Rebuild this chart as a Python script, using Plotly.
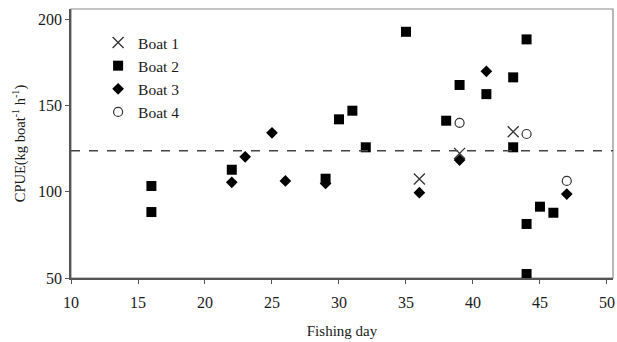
import plotly.graph_objects as go

# Data
boat1_day = [36, 39, 43]
boat1_cpue = [107.3, 122.2, 134.7]

boat2_day = [16, 16, 22, 29, 30, 31, 32, 35, 38, 39, 41, 43, 43, 44, 44, 44, 45, 46]
boat2_cpue = [103.3, 88.2, 112.7, 107.5, 141.9, 146.9, 125.7, 192.6, 141.1, 161.8,
              156.5, 166.2, 125.7, 188.2, 81.3, 52.3, 91.3, 87.8]

boat3_day = [22, 23, 25, 26, 29, 36, 39, 41, 47]
boat3_cpue = [105.4, 120.2, 134.1, 106.2, 104.8, 99.4, 118.3, 169.7, 98.6]

boat4_day = [39, 44, 47]
boat4_cpue = [139.9, 133.4, 106.2]

mean_cpue = 123.7
x_ticks = [10, 15, 20, 25, 30, 35, 40, 45, 50]
y_ticks = [50, 100, 150, 200]

FONT = "Liberation Serif"
INK = "#1a1a1a"

fig = go.Figure()
fig.add_trace(go.Scatter(x=boat1_day, y=boat1_cpue, mode="markers", name="Boat 1",
                         marker=dict(symbol="x-thin-open", size=11, color="#333333",
                                     line=dict(color="#333333", width=1.3))))
fig.add_trace(go.Scatter(x=boat2_day, y=boat2_cpue, mode="markers", name="Boat 2",
                         marker=dict(symbol="square", size=10, color="black")))
fig.add_trace(go.Scatter(x=boat3_day, y=boat3_cpue, mode="markers", name="Boat 3",
                         marker=dict(symbol="diamond", size=9, color="black")))
fig.add_trace(go.Scatter(x=boat4_day, y=boat4_cpue, mode="markers", name="Boat 4",
                         marker=dict(symbol="circle-open", size=9, color="#333333",
                                     line=dict(color="#333333", width=1.2))))

fig.add_hline(y=mean_cpue, line=dict(color="#444444", width=1.5, dash="dash"))

fig.add_shape(type="rect", xref="paper", yref="paper", x0=0, y0=0, x1=1, y1=1,
              line=dict(color="#8a8a8a", width=1.2), layer="below")

fig.update_layout(
    width=617, height=342,
    margin=dict(l=71, r=2, t=9, b=64),
    paper_bgcolor="white", plot_bgcolor="white",
    font=dict(family=FONT, size=15, color=INK),
    showlegend=True,
    legend=dict(x=0.05, y=0.937, xanchor="left", yanchor="top",
                bgcolor="rgba(0,0,0,0)", font=dict(family=FONT, size=15.5, color=INK),
                itemwidth=30, traceorder="normal"),
    xaxis=dict(range=[10, 50.45], tickvals=x_ticks, ticks="outside", ticklen=4,
               tickcolor="#555555", showgrid=False, zeroline=False,
               showline=True, linecolor="#555555", linewidth=1.5,
               ticklabelstandoff=5,
               tickfont=dict(family=FONT, size=16, color=INK),
               title=dict(text="Fishing day", font=dict(family=FONT, size=15, color=INK),
                          standoff=16)),
    yaxis=dict(range=[50, 205.8], tickvals=y_ticks, ticks="outside", ticklen=4,
               tickcolor="#555555", showgrid=False, zeroline=False,
               showline=True, linecolor="#555555", linewidth=1.5,
               tickfont=dict(family=FONT, size=16, color=INK),
               title=dict(text="CPUE(kg boat<sup>-1</sup> h<sup>-1</sup>)",
                          font=dict(family=FONT, size=14.5, color=INK), standoff=9)),
)

fig.write_html("out.html")
